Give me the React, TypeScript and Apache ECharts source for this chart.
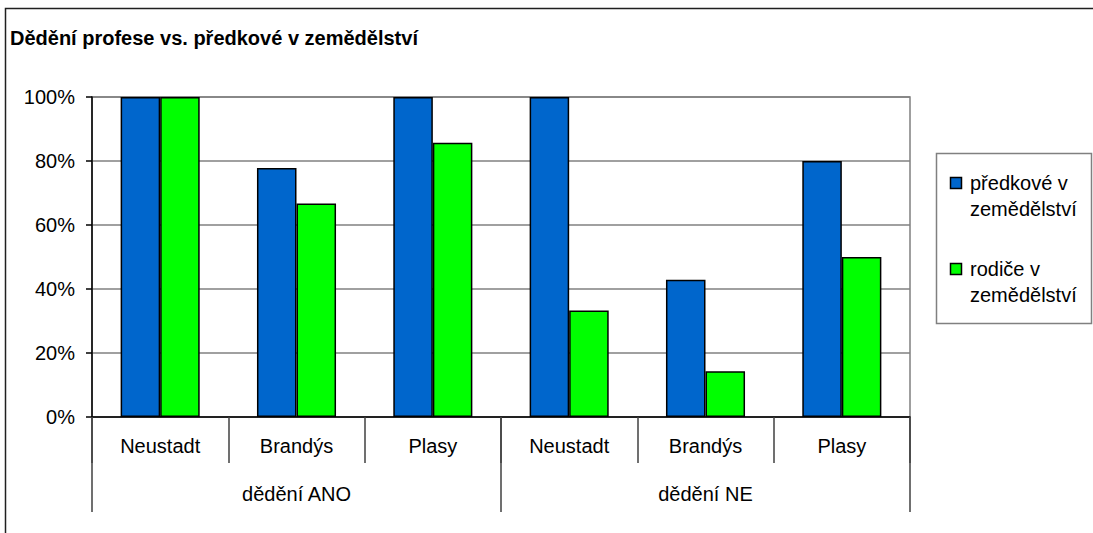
import React, { useEffect, useRef } from "react";
import * as echarts from "echarts";

const title = "Dědění profese vs. předkové v zemědělství";
const categories = ["Neustadt", "Brandýs", "Plasy", "Neustadt", "Brandýs", "Plasy"];
const groups = ["dědění ANO", "dědění NE"];
const seriesNames = ["předkové v zemědělství", "rodiče v zemědělství"];
const predkove = [100, 77.8, 100, 100, 42.9, 80];
const rodice = [100, 66.7, 85.7, 33.3, 14.3, 50];
const colors = ["#0066CC", "#00FF00"];
const yTicks = [0, 20, 40, 60, 80, 100];

const FONT = "Liberation Sans, Arial, sans-serif";

export default function App() {
  const ref = useRef<HTMLDivElement>(null);
  useEffect(() => {
    if (!ref.current) return;
    const chart = echarts.init(ref.current, null, { renderer: "svg" });
    const splitName = (n: string) => {
      const i = n.lastIndexOf(" ");
      return n.slice(0, i) + "\n" + n.slice(i + 1);
    };
    const legendItems: any[] = [];
    seriesNames.forEach((n, i) => {
      const y0 = 177 + i * 86;
      legendItems.push({
        type: "rect",
        shape: { x: 950.5, y: y0 + 0.5, width: 11, height: 11 },
        style: { fill: colors[i], stroke: "#000", lineWidth: 1.5 },
      });
      legendItems.push({
        type: "text",
        x: 970,
        y: y0 - 7,
        style: {
          text: splitName(n),
          fontSize: 20,
          fontFamily: FONT,
          fill: "#000",
          lineHeight: 26,
          verticalAlign: "top",
        },
      });
    });
    chart.setOption({
      animation: false,
      backgroundColor: "#fff",
      textStyle: { fontFamily: FONT },
      title: {
        text: title,
        left: 5,
        top: 23,
        textStyle: { fontSize: 20, fontWeight: "bold", color: "#000", fontFamily: FONT },
      },
      grid: {
        left: 92,
        right: 183,
        top: 97,
        bottom: 116,
        show: true,
        borderColor: "#808080",
        borderWidth: 1.5,
        backgroundColor: "transparent",
      },
      xAxis: [
        {
          type: "category",
          data: categories,
          position: "bottom",
          axisLine: { show: true, lineStyle: { color: "#000", width: 1.5 } },
          axisTick: { show: true, interval: 0, length: 46, lineStyle: { color: "#404040", width: 1.5 } },
          axisLabel: { interval: 0, margin: 19, fontSize: 20, color: "#000", fontFamily: FONT },
        },
        {
          type: "category",
          data: groups,
          position: "bottom",
          axisLine: { show: false },
          axisTick: { show: true, interval: 0, length: 95, lineStyle: { color: "#404040", width: 1.5 } },
          axisLabel: { interval: 0, margin: 67, fontSize: 20, color: "#000", fontFamily: FONT },
        },
      ],
      yAxis: {
        type: "value",
        min: yTicks[0],
        max: yTicks[yTicks.length - 1],
        interval: 20,
        axisLine: { show: true, lineStyle: { color: "#000", width: 1.5 } },
        axisTick: { show: true, length: 6, lineStyle: { color: "#000", width: 1.5 } },
        axisLabel: { formatter: "{value}%", margin: 17, fontSize: 20, color: "#000", fontFamily: FONT },
        splitLine: { show: true, lineStyle: { color: "#808080", width: 1.5 } },
      },
      series: [
        {
          name: seriesNames[0],
          type: "bar",
          data: predkove,
          barGap: "0%",
          barCategoryGap: "42%",
          itemStyle: { color: colors[0], borderColor: "#000", borderWidth: 1.5 },
        },
        {
          name: seriesNames[1],
          type: "bar",
          data: rodice,
          barGap: "0%",
          barCategoryGap: "42%",
          itemStyle: { color: colors[1], borderColor: "#000", borderWidth: 1.5 },
        },
      ],
      graphic: [
        {
          type: "rect",
          shape: { x: 5.5, y: 8.5, width: 1200, height: 700 },
          style: { fill: "none", stroke: "#202020", lineWidth: 1.5 },
          silent: true,
        },
        {
          type: "rect",
          shape: { x: 936.5, y: 153.5, width: 155, height: 170 },
          style: { fill: "#fff", stroke: "#808080", lineWidth: 1.5 },
        },
        ...legendItems,
      ],
    });
    return () => chart.dispose();
  }, []);
  return (
    <div
      ref={ref}
      style={{ position: "fixed", left: 0, top: 0, width: 1093, height: 533 }}
    />
  );
}
